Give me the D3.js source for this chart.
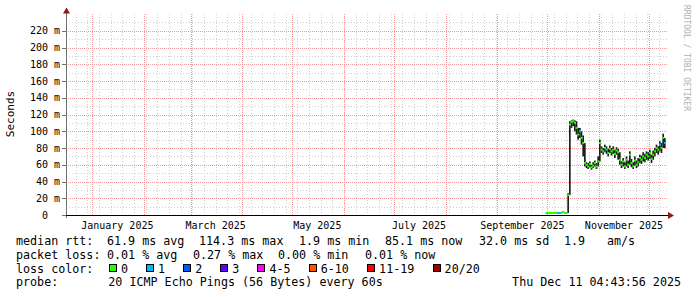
<!DOCTYPE html>
<html>
<head>
<meta charset="utf-8">
<script src="https://cdn.jsdelivr.net/npm/d3@7"></script>
<style>
  body { margin: 0; background: #fff; }
  svg text { font-family: "DejaVu Sans Mono", monospace; }
</style>
</head>
<body>
<div id="chart"></div>
<script>
// smokeping style latency chart, last 360 days

const rangeStart = new Date(2024, 11, 16, 4, 43, 56);
const rangeEnd = new Date(2025, 11, 11, 4, 43, 56);
const firstDay = new Date(2025, 8, 30);

// daily median rtt (ms), smoke low / high (ms), lost pings
const medianMs = [2.2, 2.4, 2.3, 2.5, 2.4, 2.6, 2.5, 2.3, 2.4, 2.7, 3.6, 2.5, 2.4, 24,
  108, 111, 112, 110, 104, 96, 100, 92, 86, 62, 60, 58, 61, 57, 59, 62, 58, 64, 86,
  78, 76, 80, 78, 74, 79, 76, 78, 73, 77, 75, 66, 60, 64, 58, 66, 60, 72, 62, 58,
  65, 60, 63, 68, 66, 70, 68, 72, 70, 74, 67, 72, 76, 80, 78, 84, 80, 92, 86];
const smokeLo = [1.9, 2.0, 2.0, 2.1, 2.0, 2.2, 2.1, 2.0, 2.0, 2.2, 2.5, 2.1, 2.0, 2.4,
  24, 104, 106, 100, 96, 90, 92, 84, 70, 58, 56, 55, 57, 54, 56, 58, 55, 58, 64,
  74, 72, 75, 73, 70, 74, 71, 73, 68, 72, 66, 60, 56, 58, 55, 58, 56, 60, 57, 55,
  59, 56, 58, 62, 61, 64, 63, 66, 65, 67, 62, 66, 70, 74, 72, 76, 74, 80, 80];
const smokeHi = [2.8, 3.0, 2.9, 3.1, 3.0, 3.2, 3.1, 2.9, 3.0, 3.3, 4.4, 3.1, 3.0, 26,
  112, 113, 114, 113, 112, 104, 104, 100, 95, 86, 63, 62, 64, 60, 63, 65, 62, 70, 90,
  82, 80, 84, 82, 79, 83, 80, 82, 78, 81, 79, 75, 64, 68, 63, 70, 65, 76, 67, 63,
  70, 65, 68, 72, 71, 75, 73, 76, 75, 78, 72, 77, 80, 84, 82, 88, 86, 97, 92];
const lossCount = [0, 0, 0, 0, 0, 0, 0, 1, 1, 0, 0, 0, 0, 0,
  0, 0, 0, 0, 0, 0, 1, 0, 0, 0, 0, 0, 0, 0, 0, 0, 0, 0, 0,
  0, 0, 0, 1, 0, 0, 0, 0, 0, 0, 0, 0, 0, 0, 0, 0, 0, 0, 0, 0,
  0, 0, 0, 0, 0, 0, 0, 0, 0, 0, 0, 0, 0, 0, 0, 1, 0, 0, 1];

const yTicks = [0, 20, 40, 60, 80, 100, 120, 140, 160, 180, 200, 220];
const monthLabels = ['January 2025', 'March 2025', 'May 2025', 'July 2025', 'September 2025', 'November 2025'];
const monthLabelDates = [new Date(2025, 0, 1), new Date(2025, 2, 1), new Date(2025, 4, 1),
  new Date(2025, 6, 1), new Date(2025, 8, 1), new Date(2025, 10, 1)];

const lossNames = ['0', '1', '2', '3', '4-5', '6-10', '11-19', '20/20'];
const lossColors = ['#26ff00', '#00b8ff', '#0059ff', '#5e00ff', '#ff00ff', '#ff5500', '#ff0000', '#a00000'];

const rttParts = ['median rtt:', '61.9 ms avg', '114.3 ms max', '1.9 ms min', '85.1 ms now', '32.0 ms sd', '1.9', 'am/s'];
const lossParts = ['packet loss:', '0.01 % avg', '0.27 % max', '0.00 % min', '0.01 % now'];
const probeText = '20 ICMP Echo Pings (56 Bytes) every 60s';
const stampText = 'Thu Dec 11 04:43:56 2025';

// layout
const W = 697, H = 297;
const plot = { left: 66, right: 666, top: 14, bottom: 215 };
const charW = 7.1;
const rttX = [16, 107, 199, 299, 385, 479, 564, 607];
const lossX = [16, 107, 193, 278, 365];

const svg = d3.select('#chart').append('svg')
  .attr('width', W)
  .attr('height', H);

svg.append('rect').attr('width', W).attr('height', H).attr('fill', '#fff');

const x = d3.scaleTime().domain([rangeStart, rangeEnd]).range([plot.left, plot.right]);
const y = d3.scaleLinear().domain([0, 240]).range([plot.bottom, plot.top]);

const grid = svg.append('g').attr('shape-rendering', 'crispEdges');

// minor grid
d3.range(10, 241, 10).filter(v => v % 20 !== 0).forEach(v => {
  grid.append('line')
    .attr('x1', plot.left).attr('x2', plot.right + 2)
    .attr('y1', Math.round(y(v)) + 0.5).attr('y2', Math.round(y(v)) + 0.5)
    .attr('stroke', '#cfcfcf').attr('stroke-dasharray', '1,2');
});
d3.timeSunday.range(rangeStart, rangeEnd).forEach(d => {
  grid.append('line')
    .attr('x1', Math.round(x(d)) + 0.5).attr('x2', Math.round(x(d)) + 0.5)
    .attr('y1', plot.top).attr('y2', plot.bottom)
    .attr('stroke', '#cfcfcf').attr('stroke-dasharray', '1,2');
});

// major grid
yTicks.filter(v => v > 0).forEach(v => {
  grid.append('line')
    .attr('x1', plot.left).attr('x2', plot.right + 2)
    .attr('y1', Math.round(y(v)) + 0.5).attr('y2', Math.round(y(v)) + 0.5)
    .attr('stroke', '#f29a9a').attr('stroke-dasharray', '1,1');
});
d3.timeMonth.range(rangeStart, rangeEnd).forEach(d => {
  grid.append('line')
    .attr('x1', Math.round(x(d)) + 0.5).attr('x2', Math.round(x(d)) + 0.5)
    .attr('y1', plot.top).attr('y2', plot.bottom)
    .attr('stroke', '#f29a9a').attr('stroke-dasharray', '1,1');
});

// data
const days = medianMs.map((m, i) => ({
  t0: d3.timeDay.offset(firstDay, i),
  t1: d3.timeDay.offset(firstDay, i + 1),
  med: m, lo: smokeLo[i], hi: smokeHi[i], loss: lossCount[i]
}));

svg.append('g').selectAll('rect')
  .data(days)
  .join('rect')
  .attr('x', d => x(d.t0))
  .attr('width', d => x(d.t1) - x(d.t0))
  .attr('y', d => y(d.hi))
  .attr('height', d => Math.max(1, y(d.lo) - y(d.hi)))
  .attr('fill', '#1e1e1e');

svg.append('g').selectAll('rect')
  .data(days)
  .join('rect')
  .attr('x', d => x(d.t0))
  .attr('width', d => x(d.t1) - x(d.t0) + 0.3)
  .attr('y', d => y(d.med) - 1)
  .attr('height', 2)
  .attr('fill', d => lossColors[d.loss]);

// axes
const axes = svg.append('g').attr('shape-rendering', 'crispEdges');
axes.append('line')
  .attr('x1', plot.left + 0.5).attr('x2', plot.left + 0.5)
  .attr('y1', 10).attr('y2', plot.bottom + 3)
  .attr('stroke', '#707070');
axes.append('line')
  .attr('x1', plot.left - 4).attr('x2', plot.right + 3)
  .attr('y1', plot.bottom + 0.5).attr('y2', plot.bottom + 0.5)
  .attr('stroke', '#000');
yTicks.forEach(v => {
  axes.append('line')
    .attr('x1', plot.left - 4).attr('x2', plot.left)
    .attr('y1', Math.round(y(v)) + 0.5).attr('y2', Math.round(y(v)) + 0.5)
    .attr('stroke', '#707070');
});
svg.append('path')
  .attr('d', `M${plot.left - 3},13.5 L${plot.left + 0.5},7.5 L${plot.left + 4},13.5 Z`)
  .attr('fill', '#8b1a1a');
svg.append('path')
  .attr('d', `M${plot.right + 2},${plot.bottom - 3} L${plot.right + 8},${plot.bottom + 0.5} L${plot.right + 2},${plot.bottom + 4} Z`)
  .attr('fill', '#8b1a1a');

// y labels
const yLab = svg.append('g').attr('font-size', '10px').attr('fill', '#000');
yTicks.forEach(v => {
  yLab.append('text')
    .attr('x', 48).attr('y', y(v) + 3.5)
    .attr('text-anchor', 'end')
    .text(v);
  if (v > 0) {
    yLab.append('text')
      .attr('x', 54).attr('y', y(v) + 3.5)
      .text('m');
  }
});

// x labels, centered half a month after the month start
monthLabels.forEach((lab, i) => {
  svg.append('text')
    .attr('x', x(d3.timeDay.offset(monthLabelDates[i], 15)))
    .attr('y', 229)
    .attr('text-anchor', 'middle')
    .attr('font-size', '10px')
    .text(lab);
});

svg.append('text')
  .attr('transform', 'translate(14,114) rotate(-90)')
  .attr('text-anchor', 'middle')
  .attr('font-size', '11px')
  .text('Seconds');

svg.append('text')
  .attr('transform', 'translate(684,5) rotate(90)')
  .attr('font-size', '8px')
  .attr('fill', '#b0b0b0')
  .text('RRDTOOL / TOBI OETIKER');

// legend
const leg = svg.append('g').attr('font-size', '11.7px').attr('fill', '#000');
rttParts.forEach((p, i) => {
  leg.append('text').attr('x', rttX[i]).attr('y', 245).text(p);
});
lossParts.forEach((p, i) => {
  leg.append('text').attr('x', lossX[i]).attr('y', 259).text(p);
});
leg.append('text').attr('x', 16).attr('y', 272.5).text('loss color:');
// each entry: box, label, then padding; width grows with the label length
let boxX = 109;
lossNames.forEach((n, i) => {
  leg.append('rect')
    .attr('x', boxX + 0.5).attr('y', 264.5)
    .attr('width', 7).attr('height', 7)
    .attr('fill', lossColors[i])
    .attr('stroke', '#000')
    .attr('shape-rendering', 'crispEdges');
  leg.append('text').attr('x', boxX + 12).attr('y', 272.5).text(n);
  boxX += 30 + n.length * 7.1;
});
leg.append('text').attr('x', 16).attr('y', 286).text('probe:');
leg.append('text').attr('x', 16 + 13 * charW).attr('y', 286).text(probeText);
leg.append('text').attr('x', 681).attr('y', 286).attr('text-anchor', 'end').text(stampText);
</script>
</body>
</html>
